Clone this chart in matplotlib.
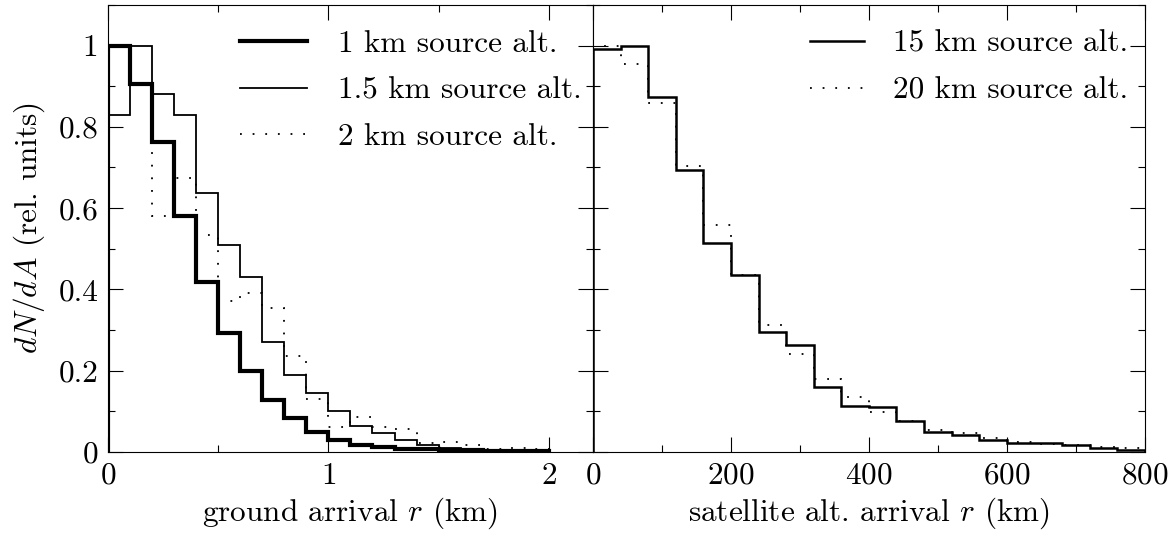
import matplotlib
matplotlib.use("Agg")
import matplotlib.pyplot as plt
import numpy as np
from matplotlib.ticker import MultipleLocator, FuncFormatter

# ground arrival, bins of 0.1 km
ground_edges = np.arange(0, 2.01, 0.1)
ground_1km = [1.0, 0.906, 0.763, 0.580, 0.419, 0.292, 0.200, 0.128, 0.083, 0.049,
              0.030, 0.018, 0.012, 0.008, 0.007, 0.005, 0.004, 0.003, 0.002, 0.002]
ground_15km = [0.830, 1.0, 0.881, 0.830, 0.637, 0.509, 0.431, 0.270, 0.190, 0.145,
               0.102, 0.065, 0.047, 0.030, 0.016, 0.010, 0.008, 0.006, 0.004, 0.003]
ground_2km = [1.0, 0.906, 0.580, 0.674, 0.535, 0.372, 0.392, 0.354, 0.237, 0.131,
              0.061, 0.085, 0.062, 0.057, 0.021, 0.024, 0.018, 0.008, 0.010, 0.008]

# satellite altitude arrival, bins of 40 km
sat_edges = np.arange(0, 801, 40)
sat_15km = [0.992, 1.0, 0.873, 0.693, 0.513, 0.435, 0.296, 0.262, 0.159, 0.114,
            0.111, 0.075, 0.048, 0.043, 0.030, 0.023, 0.023, 0.017, 0.010, 0.005]
sat_20km = [1.0, 0.955, 0.859, 0.703, 0.558, 0.435, 0.313, 0.241, 0.180, 0.135,
            0.098, 0.075, 0.055, 0.046, 0.034, 0.025, 0.020, 0.016, 0.013, 0.010]

FS = 22.5
plt.rcParams["font.family"] = "serif"
plt.rcParams["font.serif"] = ["cmr10", "DejaVu Serif"]
plt.rcParams["mathtext.fontset"] = "cm"
plt.rcParams["axes.formatter.use_mathtext"] = True
plt.rcParams["font.size"] = FS

DOTTED = (0, (1, 6))


def style_axes(ax):
    ax.tick_params(which="both", direction="in", top=True, right=True,
                   width=0.8, labelsize=FS, pad=7)
    ax.tick_params(which="major", length=11)
    ax.tick_params(which="minor", length=5)
    for sp in ax.spines.values():
        sp.set_linewidth(0.8)
    ax.set_ylim(0, 1.1)
    ax.yaxis.set_major_locator(MultipleLocator(0.2))
    ax.yaxis.set_minor_locator(MultipleLocator(0.1))
    ax.yaxis.set_major_formatter(FuncFormatter(lambda v, p: "%g" % round(v, 2)))


def main():
    fig = plt.figure(figsize=(11.73, 5.4), dpi=100)
    ax1 = fig.add_axes([0.092, 0.163, 0.4135, 0.828])
    ax2 = fig.add_axes([0.5055, 0.163, 0.4705, 0.828])

    ax1.stairs(ground_1km, ground_edges, baseline=0, color="black", lw=3.0,
               label="1 km source alt.")
    ax1.stairs(ground_15km, ground_edges, baseline=0, color="black", lw=1.3,
               label="1.5 km source alt.")
    ax1.stairs(ground_2km, ground_edges, baseline=0, color="black", lw=1.3,
               linestyle=DOTTED, label="2 km source alt.")
    style_axes(ax1)
    ax1.set_xlim(0, 2.2)
    ax1.xaxis.set_major_locator(MultipleLocator(1))
    ax1.xaxis.set_minor_locator(MultipleLocator(0.5))
    ax1.set_xlabel("ground arrival $r$ (km)", fontsize=FS, labelpad=4)
    ax1.set_ylabel("$dN/dA$ (rel. units)", fontsize=FS, labelpad=8)
    ax1.legend(loc="upper right", bbox_to_anchor=(0.977, 0.944), frameon=False,
               fontsize=FS, handlelength=2.15, handletextpad=1.0,
               labelspacing=0.6, borderpad=0, borderaxespad=0)

    ax2.stairs(sat_15km, sat_edges, baseline=0, color="black", lw=1.8,
               label="15 km source alt.")
    ax2.stairs(sat_20km, sat_edges, baseline=0, color="black", lw=1.3,
               linestyle=DOTTED, label="20 km source alt.")
    style_axes(ax2)
    ax2.set_xlim(0, 800)
    ax2.xaxis.set_major_locator(MultipleLocator(200))
    ax2.xaxis.set_minor_locator(MultipleLocator(100))
    ax2.tick_params(labelleft=False)
    ax2.set_xlabel("satellite alt. arrival $r$ (km)", fontsize=FS, labelpad=4)
    ax2.legend(loc="upper right", bbox_to_anchor=(0.969, 0.944), frameon=False,
               fontsize=FS, handlelength=1.7, handletextpad=0.93,
               labelspacing=0.6, borderpad=0, borderaxespad=0)

    fig.savefig("out.png", dpi=100)


if __name__ == "__main__":
    main()
